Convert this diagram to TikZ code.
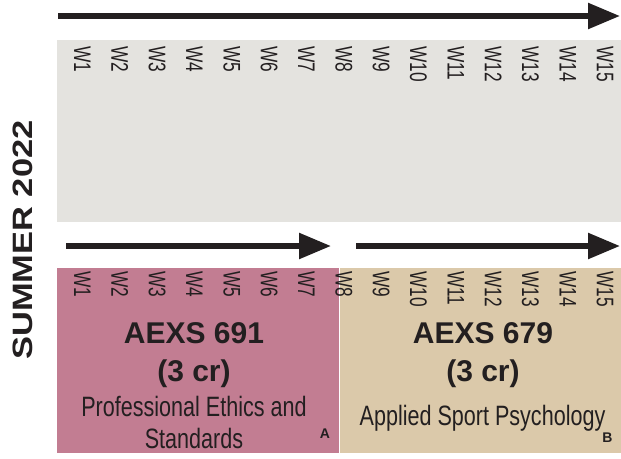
\documentclass[tikz,border=0pt]{standalone}
\usepackage{fontspec}
\setmainfont{Liberation Sans}
\newfontfamily\narrowfont[FakeStretch=0.77]{Liberation Sans}
\newfontfamily\weekfont[FakeStretch=0.72]{Liberation Sans}
\newfontfamily\widefont[FakeStretch=1.23]{Liberation Sans}
\usepackage{tikz}
\usetikzlibrary{arrows.meta}
\definecolor{weekgray}{HTML}{E4E3DF}
\definecolor{ethicspink}{HTML}{C27D92}
\definecolor{psychtan}{HTML}{DBC9AA}
\definecolor{inkgray}{HTML}{231F20}
\tikzstyle{timeline} = [line width=5.5pt, draw=inkgray, -{Triangle[length=32pt,width=25pt]}]
\tikzstyle{weeklabel} = [rotate=-90, anchor=west, inner sep=0pt, text=inkgray, font=\weekfont\fontsize{24}{26}\selectfont]
\tikzstyle{coursecode} = [font=\fontsize{30}{32}\selectfont\bfseries, text=inkgray, inner sep=0pt]
\tikzstyle{coursetitle} = [font=\narrowfont\fontsize{28}{32}\selectfont, text=inkgray, align=center, inner sep=0pt]
\tikzstyle{cornermark} = [font=\fontsize{14}{16}\selectfont\bfseries, text=inkgray, inner sep=0pt]

\begin{document}
\begin{tikzpicture}[x=1pt, y=-1pt]
\useasboundingbox (0,0) rectangle (621,458);
% week grid backgrounds
\fill[weekgray] (57,40) rectangle (621,222);
\fill[ethicspink] (57,268) rectangle (339,453);
\fill[psychtan] (340,268) rectangle (621,453);
% arrows
\coordinate (topstart) at (58,16);
\coordinate (topend) at (620,16);
\coordinate (astart) at (66,246);
\coordinate (aend) at (331,246);
\coordinate (bstart) at (356,246);
\coordinate (bend) at (620,246);
\draw[timeline] (topstart) -- (topend);
\draw[timeline] (astart) -- (aend);
\draw[timeline] (bstart) -- (bend);
% weeks
\foreach \w in {1,...,15}
  \node[weeklabel] (top\w) at ({82.5+37.33*(\w-1)},46) {W\w};
\foreach \w in {1,...,15}
  \node[weeklabel] (low\w) at ({82.5+37.33*(\w-1)},271) {W\w};
% semester
\node[rotate=90, font=\widefont\fontsize{28}{30}\selectfont\bfseries, text=inkgray, inner sep=0pt] (semester) at (23,240) {SUMMER 2022};
% course A
\node[coursecode] (codeA) at (194,333) {AEXS 691};
\node[coursecode] (crA) at (194,374) {(3 cr)};
\node[coursetitle] (titleA) at (194,422) {Professional Ethics and\\Standards};
\node[cornermark] (markA) at (325,434) {A};
% course B
\node[coursecode] (codeB) at (483,333) {AEXS 679};
\node[coursecode] (crB) at (483,374) {(3 cr)};
\node[coursetitle] (titleB) at (482.5,418) {Applied Sport Psychology};
\node[cornermark] (markB) at (607.5,438) {B};
\end{tikzpicture}
\end{document}
